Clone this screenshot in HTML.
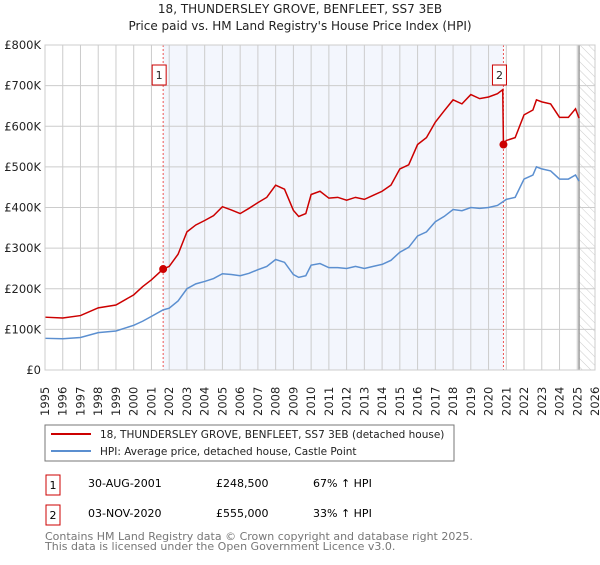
<!DOCTYPE html>
<html><head><meta charset="utf-8"><style>
body{margin:0;background:#fff;font-family:"Liberation Sans","DejaVu Sans",sans-serif;}
svg text{font-family:"DejaVu Sans","Liberation Sans",sans-serif;}
</style></head><body>
<svg id="c" width="600" height="560" xmlns="http://www.w3.org/2000/svg">
<defs><pattern id="hatch" width="6" height="6" patternUnits="userSpaceOnUse" patternTransform="rotate(-45)"><line x1="0" y1="0" x2="0" y2="6" stroke="#ccc" stroke-width="1"/></pattern></defs>
<text x="300" y="13" text-anchor="middle" font-size="12" fill="#222">18, THUNDERSLEY GROVE, BENFLEET, SS7 3EB</text>
<text x="300" y="30" text-anchor="middle" font-size="12" fill="#222">Price paid vs. HM Land Registry's House Price Index (HPI)</text>
<g id="plot"></g>
<rect x="45" y="425" width="409" height="36" fill="#fff" stroke="#777"/>
<line x1="51" y1="434" x2="91" y2="434" stroke="#cc0000" stroke-width="2"/>
<text x="100" y="438" font-size="10.5" fill="#222">18, THUNDERSLEY GROVE, BENFLEET, SS7 3EB (detached house)</text>
<line x1="51" y1="451" x2="91" y2="451" stroke="#5b8fd0" stroke-width="2"/>
<text x="100" y="455" font-size="10.5" fill="#222">HPI: Average price, detached house, Castle Point</text>
<g font-size="11">
<rect x="46" y="475" width="14" height="20" fill="#fff" stroke="#cc0000"/><text x="53" y="489" text-anchor="middle">1</text>
<text x="88" y="487">30-AUG-2001</text><text x="216" y="487">£248,500</text><text x="313" y="487">67% ↑ HPI</text></g>
<g font-size="11">
<rect x="46" y="505" width="14" height="20" fill="#fff" stroke="#cc0000"/><text x="53" y="519" text-anchor="middle">2</text>
<text x="88" y="517">03-NOV-2020</text><text x="216" y="517">£555,000</text><text x="313" y="517">33% ↑ HPI</text></g>
<text x="45" y="540" font-size="11" fill="#777">Contains HM Land Registry data © Crown copyright and database right 2025.</text>
<text x="45" y="550" font-size="11" fill="#777">This data is licensed under the Open Government Licence v3.0.</text>
</svg>
<script>
const hpiYears=[1995,1996,1997,1998,1999,2000,2000.5,2001,2001.66,2002,2002.5,2003,2003.5,2004,2004.5,2005,2005.5,2006,2006.5,2007,2007.5,2008,2008.5,2009,2009.3,2009.7,2010,2010.5,2011,2011.5,2012,2012.5,2013,2013.5,2014,2014.5,2015,2015.5,2016,2016.5,2017,2017.5,2018,2018.5,2019,2019.5,2020,2020.5,2020.84,2021,2021.5,2022,2022.5,2022.7,2023,2023.5,2024,2024.5,2024.9,2025.1];
const hpiValues=[78,77,80,92,96,110,120,132,148,152,170,200,212,218,225,237,235,232,238,247,255,272,265,235,228,232,258,262,252,252,250,255,250,255,260,270,290,302,330,340,365,378,395,392,400,398,400,405,415,420,425,470,480,500,495,490,470,470,480,465];
const priceYears=[1995,1996,1997,1998,1999,2000,2000.5,2001,2001.66,2002,2002.5,2003,2003.5,2004,2004.5,2005,2005.5,2006,2006.5,2007,2007.5,2008,2008.5,2009,2009.3,2009.7,2010,2010.5,2011,2011.5,2012,2012.5,2013,2013.5,2014,2014.5,2015,2015.5,2016,2016.5,2017,2017.5,2018,2018.5,2019,2019.5,2020,2020.5,2020.8,2020.84,2021,2021.5,2022,2022.5,2022.7,2023,2023.5,2024,2024.5,2024.9,2025.1];
const priceValues=[130,128,134,153,160,185,205,222,248.5,255,285,340,357,368,380,402,394,385,398,412,425,455,445,393,378,385,432,440,423,425,418,425,420,430,440,455,495,505,555,572,610,638,665,655,678,668,672,680,690,555,565,572,628,640,665,660,655,622,622,643,620];
const saleYears=[2001.66,2020.84];
const saleValues=[248.5,555];
const saleLabels=["1","2"];
const yTicks=[0,100,200,300,400,500,600,700,800];
const yTickLabels=["£0","£100K","£200K","£300K","£400K","£500K","£600K","£700K","£800K"];
const xTicks=[1995,1996,1997,1998,1999,2000,2001,2002,2003,2004,2005,2006,2007,2008,2009,2010,2011,2012,2013,2014,2015,2016,2017,2018,2019,2020,2021,2022,2023,2024,2025,2026];
const dataEnd=2025.1;

const L=45,R=595,T=45,B=370;
const xs=y=>L+(y-1995)/(2026-1995)*(R-L);
const ys=v=>B-v/800*(B-T);
const NS="http://www.w3.org/2000/svg";
const g=document.getElementById('plot');
function mk(t,a){const e=document.createElementNS(NS,t);for(const k in a)e.setAttribute(k,a[k]);g.appendChild(e);return e;}
let e=mk('rect',{x:xs(saleYears[0]),y:T,width:xs(saleYears[1])-xs(saleYears[0]),height:B-T,fill:'#f3f6fd'});


e=mk('rect',{x:xs(dataEnd),y:T,width:R-xs(dataEnd),height:B-T,fill:'url(#hatch)'});


xTicks.forEach(t=>{
 e=mk('line',{x1:xs(t),x2:xs(t),y1:T,y2:B,stroke:'#ccc','stroke-width':1});
 
 
 e=mk('text',{x:0,y:0,transform:`translate(${xs(t)+4},${B+46}) rotate(-90)`,'font-size':11.5,fill:'#222'});
 e.textContent=t;
 
 
});
yTicks.forEach((t,i)=>{
 e=mk('line',{x1:L,x2:R,y1:ys(t),y2:ys(t),stroke:'#ccc','stroke-width':1});
 
 
 e=mk('text',{x:L-4,y:ys(t)+4,'text-anchor':'end','font-size':11.5,fill:'#222'});
 e.textContent=yTickLabels[i];
 
 
});
e=mk('line',{x1:xs(dataEnd),x2:xs(dataEnd),y1:T,y2:B,stroke:'#999','stroke-width':1.5});


saleYears.forEach(s=>{
 e=mk('line',{x1:xs(s),x2:xs(s),y1:T,y2:B,stroke:'#e55','stroke-width':1,'stroke-dasharray':'2,2'});
 
 
});
e=mk('polyline',{points:hpiYears.map((y,i)=>xs(y)+','+ys(hpiValues[i])).join(' '),fill:'none',stroke:'#5b8fd0','stroke-width':1.5});


e=mk('polyline',{points:priceYears.map((y,i)=>xs(y)+','+ys(priceValues[i])).join(' '),fill:'none',stroke:'#cc0000','stroke-width':1.5});


saleYears.forEach((s,i)=>{
 e=mk('circle',{cx:xs(s),cy:ys(saleValues[i]),r:4,fill:'#cc0000'});
 
 
 const bx=xs(s)-4;
 e=mk('rect',{x:bx-7,y:65,width:14,height:20,fill:'#fff',stroke:'#cc0000'});
 
 
 e=mk('text',{x:bx,y:79,'text-anchor':'middle','font-size':11,fill:'#222'});
 e.textContent=saleLabels[i];
 
 
});
e=mk('rect',{x:L,y:T,width:R-L,height:B-T,fill:'none',stroke:'#ccc'});


</script>
</body></html>
